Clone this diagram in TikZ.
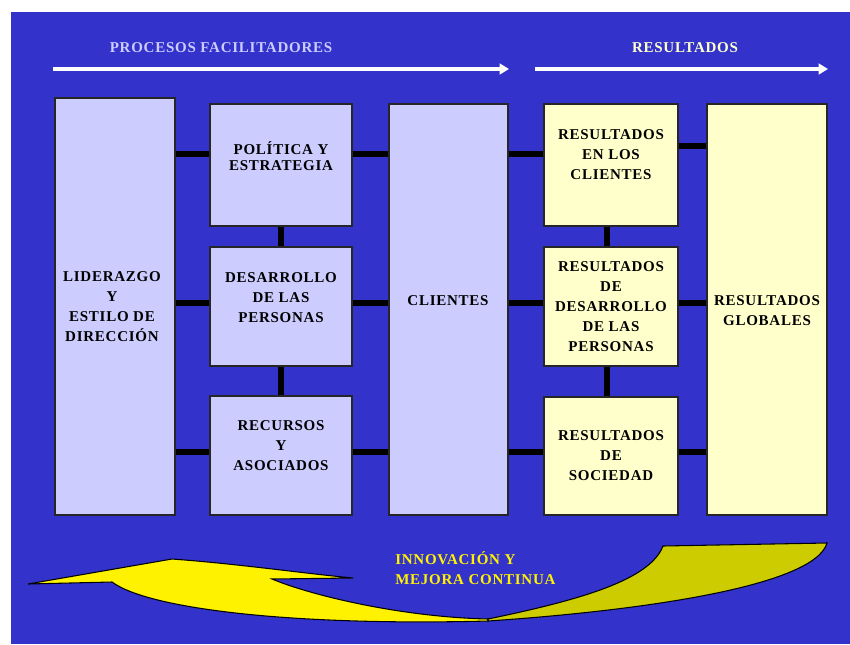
\documentclass[tikz,border=0pt]{standalone}
\usepackage{fontspec}
\setmainfont{Liberation Serif}
\usetikzlibrary{arrows.meta,fit}
\definecolor{fondo}{HTML}{3333CC}
\definecolor{lila}{HTML}{CCCCFF}
\definecolor{crema}{HTML}{FFFFCC}
\definecolor{oliva}{HTML}{CCCC00}
\tikzset{
	caja/.style={draw=black!85, line width=1pt, inner sep=0pt},
	proc/.style={caja, fill=lila},
	res/.style={caja, fill=crema},
	rotulo/.style={align=center, inner sep=0pt, text=black,
		font=\fontsize{11.25}{15}\selectfont\bfseries\addfontfeature{LetterSpace=5}},
	enlace/.style={line width=4.5pt, black},
	flecha/.style={white, line width=2.4pt, -{Triangle[length=7pt,width=8pt]}},
	cinta/.style={draw=black, line width=0.8pt, line join=miter},
}

\begin{document}
\begin{tikzpicture}[x=0.75pt,y=-0.75pt]
		%%%%% START %%%%%
		\useasboundingbox (0,0) rectangle (850,644);
		\fill[fondo] (11,12) rectangle (850,644);
		
		% cabeceras
		\node[rotulo, text=lila] (tproc) at (221,48) {PROCESOS FACILITADORES};
		\node[rotulo, text=crema] (tres) at (685,48) {RESULTADOS};
		\coordinate (a1) at (53,69);
		\coordinate (b1) at (509,69);
		\coordinate (a2) at (535,69);
		\coordinate (b2) at (828,69);
		\draw[flecha] (a1) -- (b1);
		\draw[flecha] (a2) -- (b2);
		
		% procesos facilitadores
		\node[proc, fit={(55,98) (175,515)}] (lid) {};
		\node[proc, fit={(210,104) (352,226)}] (pol) {};
		\node[proc, fit={(210,247) (352,366)}] (des) {};
		\node[proc, fit={(210,396) (352,515)}] (rec) {};
		\node[proc, fit={(389,104) (508,515)}] (cli) {};
		
		% resultados
		\node[res, fit={(544,104) (678,226)}] (rcl) {};
		\node[res, fit={(544,247) (678,366)}] (rdp) {};
		\node[res, fit={(544,397) (678,515)}] (rso) {};
		\node[res, fit={(707,104) (827,515)}] (glo) {};
		
		% textos
		\node[rotulo] (lidtxt) at (112,307) {LIDERAZGO\\Y\\ESTILO DE\\DIRECCIÓN};
		\node[rotulo, font=\fontsize{11.25}{11.5}\selectfont\bfseries\addfontfeature{LetterSpace=5}] (poltxt) at (281,156) {POLÍTICA Y\\ESTRATEGIA};
		\node[rotulo] (destxt) at (281,298) {DESARROLLO\\DE LAS\\PERSONAS};
		\node[rotulo] (rectxt) at (281,446) {RECURSOS\\Y\\ASOCIADOS};
		\node[rotulo] (clitxt) at (448,301) {CLIENTES};
		\node[rotulo] (rcltxt) at (611,155) {RESULTADOS\\EN LOS\\CLIENTES};
		\node[rotulo] (rdptxt) at (611,307) {RESULTADOS\\DE\\DESARROLLO\\DE LAS\\PERSONAS};
		\node[rotulo] (rsotxt) at (611,456) {RESULTADOS\\DE\\SOCIEDAD};
		\node[rotulo] (glotxt) at (767,311) {RESULTADOS\\GLOBALES};
		
		% enlaces
		\coordinate (f0) at (0,146);
		\coordinate (f1) at (0,154);
		\coordinate (f2) at (0,303);
		\coordinate (f3) at (0,452);
		\coordinate (c2) at (607,0);
		\draw[enlace] (lid.east |- f1) -- (pol.west |- f1);
		\draw[enlace] (lid.east |- f2) -- (des.west |- f2);
		\draw[enlace] (lid.east |- f3) -- (rec.west |- f3);
		\draw[enlace] (pol.east |- f1) -- (cli.west |- f1);
		\draw[enlace] (des.east |- f2) -- (cli.west |- f2);
		\draw[enlace] (rec.east |- f3) -- (cli.west |- f3);
		\draw[enlace] (pol.south) -- (des.north);
		\draw[enlace] (des.south) -- (rec.north);
		\draw[enlace] (cli.east |- f1) -- (rcl.west |- f1);
		\draw[enlace] (cli.east |- f2) -- (rdp.west |- f2);
		\draw[enlace] (cli.east |- f3) -- (rso.west |- f3);
		\draw[enlace] (rcl.east |- f0) -- (glo.west |- f0);
		\draw[enlace] (rdp.east |- f2) -- (glo.west |- f2);
		\draw[enlace] (rso.east |- f3) -- (glo.west |- f3);
		\draw[enlace] (rcl.south -| c2) -- (rdp.north -| c2);
		\draw[enlace] (rdp.south -| c2) -- (rso.north -| c2);
		
		% flecha de mejora continua
		\draw[cinta, fill=oliva] (488,619) .. controls (580,600) and (650,580) .. (663,546)
			-- (827,543) .. controls (815,585) and (650,610) .. (488,621) -- cycle;
		\draw[cinta, fill=yellow] (28,584) -- (172,559)
			.. controls (240,564) and (300,573) .. (353,578) -- (272,579)
			.. controls (310,595) and (400,617) .. (488,619) -- (488,621)
			.. controls (300,626) and (150,610) .. (112,582) -- cycle;
		\node[rotulo, align=left, anchor=west, text=yellow] (innov) at (395,568) {INNOVACIÓN Y\\MEJORA CONTINUA};
		
		%%%%% END %%%%%
	\end{tikzpicture}
\end{document}
